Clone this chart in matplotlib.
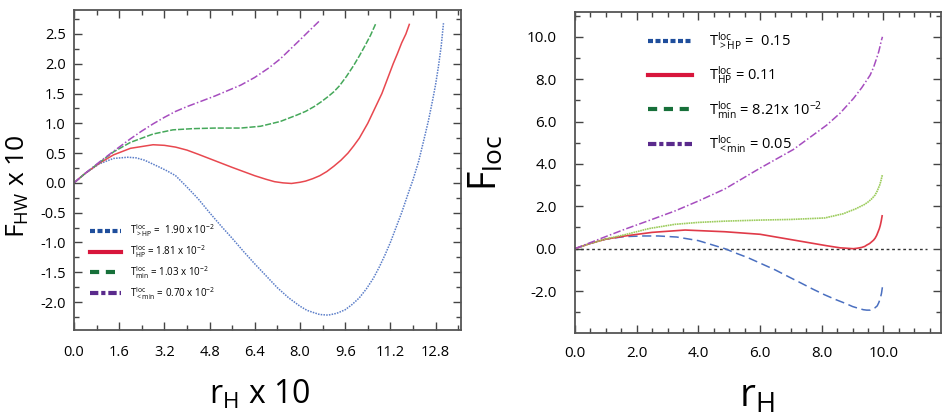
import matplotlib
matplotlib.use("Agg")
import matplotlib.pyplot as plt
from matplotlib.lines import Line2D
from matplotlib.ticker import MultipleLocator, FormatStrFormatter

plt.rcParams['font.family'] = ['Open Sans', 'DejaVu Sans']
plt.rcParams['axes.unicode_minus'] = False
plt.rcParams['mathtext.fontset'] = 'custom'
plt.rcParams['mathtext.rm'] = 'Open Sans'
plt.rcParams['mathtext.it'] = 'Open Sans'

# ---- left panel: F_HW x 10 vs r_H x 10 ----
l_x_above = [0, 0.4, 0.9, 1.4, 1.9, 2.2, 2.5, 3.0, 3.3, 3.6, 4.0, 4.4, 4.8, 5.2, 5.6, 6.0,
             6.4, 6.8, 7.2, 7.6, 8.0, 8.25, 8.5, 8.7, 9.0, 9.3, 9.6, 9.85, 10.1, 10.35, 10.6,
             10.8, 11.0, 11.2, 11.4, 11.6, 11.8, 12.0, 12.2, 12.4, 12.55, 12.7, 12.8, 12.9,
             13.0, 13.08]
l_y_above = [0, 0.16, 0.32, 0.41, 0.43, 0.42, 0.38, 0.27, 0.2, 0.12, -0.07, -0.27, -0.5,
             -0.72, -0.93, -1.15, -1.36, -1.56, -1.76, -1.93, -2.07, -2.14, -2.18, -2.21,
             -2.22, -2.19, -2.13, -2.04, -1.93, -1.78, -1.6, -1.42, -1.22, -1.0, -0.75, -0.5,
             -0.22, 0.05, 0.36, 0.75, 1.05, 1.4, 1.65, 1.95, 2.3, 2.68]
l_x_hp = [0, 0.4, 0.9, 1.4, 2.0, 2.8, 3.2, 3.6, 4.0, 4.4, 5.0, 5.6, 6.0, 6.4, 6.8, 7.1,
          7.4, 7.7, 8.0, 8.2, 8.45, 8.7, 8.95, 9.2, 9.45, 9.7, 9.9, 10.1, 10.4, 10.65, 10.9,
          11.1, 11.3, 11.45, 11.6, 11.75, 11.87]
l_y_hp = [0, 0.16, 0.33, 0.47, 0.58, 0.64, 0.63, 0.6, 0.55, 0.48, 0.37, 0.26, 0.19, 0.12,
          0.06, 0.02, 0.0, -0.01, 0.01, 0.03, 0.07, 0.12, 0.19, 0.28, 0.38, 0.5, 0.62, 0.75,
          1.0, 1.25, 1.5, 1.75, 2.0, 2.17, 2.35, 2.5, 2.66]
l_x_min = [0, 0.4, 0.9, 1.4, 2.0, 2.8, 3.5, 4.2, 5.0, 5.9, 6.6, 7.3, 7.9, 8.2, 8.5, 8.75,
           9.0, 9.2, 9.4, 9.65, 9.9, 10.1, 10.3, 10.5, 10.68]
l_y_min = [0, 0.16, 0.34, 0.52, 0.68, 0.82, 0.89, 0.91, 0.92, 0.92, 0.95, 1.03, 1.14, 1.2,
           1.28, 1.36, 1.45, 1.53, 1.63, 1.79, 1.97, 2.13, 2.3, 2.48, 2.67]
l_x_below = [0, 0.4, 0.9, 1.4, 2.0, 2.4, 2.8, 3.2, 3.6, 4.0, 4.5, 5.0, 5.4, 5.9, 6.4, 6.9,
             7.3, 7.65, 8.0, 8.3, 8.67]
l_y_below = [0, 0.16, 0.35, 0.53, 0.74, 0.87, 0.99, 1.1, 1.2, 1.28, 1.37, 1.46, 1.54, 1.64,
             1.77, 1.93, 2.08, 2.24, 2.4, 2.54, 2.71]
l_labels = [r'$\mathregular{T^{loc}_{>HP}}$ =  1.90 x 10$\mathregular{^{-2}}$',
            r'$\mathregular{T^{loc}_{HP}}$ = 1.81 x 10$\mathregular{^{-2}}$',
            r'$\mathregular{T^{loc}_{min}}$ = 1.03 x 10$\mathregular{^{-2}}$',
            r'$\mathregular{T^{loc}_{<min}}$ = 0.70 x 10$\mathregular{^{-2}}$']

# ---- right panel: F_loc vs r_H ----
r_x_above = [0, 0.5, 1.0, 1.6, 2.2, 2.7, 3.3, 4.0, 4.86, 5.2, 5.6, 6.0, 6.49, 7.0, 7.3,
             7.7, 8.1, 8.45, 8.8, 9.0, 9.2, 9.35, 9.46, 9.58, 9.65, 9.72, 9.8, 9.85, 9.9,
             9.94, 9.97]
r_y_above = [0, 0.25, 0.45, 0.57, 0.6, 0.6, 0.55, 0.38, 0.0, -0.2, -0.42, -0.68, -1.0,
             -1.38, -1.6, -1.9, -2.18, -2.4, -2.6, -2.73, -2.82, -2.88, -2.9, -2.9, -2.86,
             -2.8, -2.7, -2.55, -2.35, -2.1, -1.8]
r_x_hp = [0, 0.5, 1.0, 1.62, 2.5, 3.57, 4.86, 6.0, 7.08, 8.16, 8.6, 9.03, 9.15, 9.3, 9.4,
          9.46, 9.55, 9.6, 9.68, 9.73, 9.78, 9.83, 9.87, 9.9, 9.93, 9.96]
r_y_hp = [0, 0.25, 0.45, 0.6, 0.77, 0.88, 0.8, 0.68, 0.41, 0.14, 0.04, 0.0, 0.02, 0.06,
          0.11, 0.17, 0.24, 0.3, 0.4, 0.49, 0.62, 0.8, 0.95, 1.1, 1.3, 1.55]
r_x_min = [0, 0.5, 1.0, 1.62, 2.4, 3.24, 4.0, 4.86, 6.0, 7.0, 8.1, 8.7, 9.1, 9.24, 9.38,
           9.5, 9.62, 9.73, 9.8, 9.88, 9.92, 9.97]
r_y_min = [0, 0.25, 0.46, 0.66, 0.95, 1.15, 1.24, 1.3, 1.35, 1.38, 1.45, 1.65, 1.88, 1.98,
           2.08, 2.2, 2.35, 2.53, 2.72, 3.0, 3.2, 3.5]
r_x_below = [0, 0.8, 1.62, 2.4, 3.24, 4.0, 4.86, 6.0, 7.08, 8.16, 8.6, 9.03, 9.3, 9.57,
             9.68, 9.78, 9.85, 9.9, 9.93, 9.97]
r_y_below = [0, 0.46, 0.92, 1.33, 1.78, 2.25, 2.82, 3.8, 4.68, 5.83, 6.4, 7.09, 7.6, 8.19,
             8.55, 8.98, 9.3, 9.6, 9.8, 10.0]
r_zero_x = [0, 11.4]
r_zero_y = [0, 0]
r_labels = [r'$\mathregular{T^{loc}_{>HP}}$ =  0.15',
            r'$\mathregular{T^{loc}_{HP}}$ = 0.11',
            r'$\mathregular{T^{loc}_{min}}$ = 8.21x 10$\mathregular{^{-2}}$',
            r'$\mathregular{T^{loc}_{<min}}$ = 0.05']

legend_colors = ['#1f4e9c', '#d8163c', '#17703a', '#5a2a8c']
legend_styles = [(0, (1.2, 0.6)), '-', (0, (2.2, 1.6)), (0, (2, 0.7, 1, 0.7))]

spine_col = '#555555'


def style_axes(ax, labelsize, xpad, ypad):
    for s in ax.spines.values():
        s.set_color(spine_col)
        s.set_linewidth(1.3)
    ax.tick_params(which='both', direction='in', top=True, right=True,
                   color='#444444', width=1.0, labelsize=labelsize)
    ax.tick_params(which='major', length=6)
    ax.tick_params(which='minor', length=3.5)
    ax.tick_params(axis='x', pad=xpad)
    ax.tick_params(axis='y', pad=ypad)


fig = plt.figure(figsize=(9.47, 4.16), dpi=100)

# left
ax1 = fig.add_axes([0.0781, 0.2067, 0.4087, 0.769])
ax1.plot(l_x_above, l_y_above, color='#5a7dc8', lw=1.1, ls=(0, (1, 0.8)))
ax1.plot(l_x_hp, l_y_hp, color='#e8484f', lw=1.1)
ax1.plot(l_x_min, l_y_min, color='#45a85a', lw=1.1, ls=(0, (4, 1.2)))
ax1.plot(l_x_below, l_y_below, color='#a64dbf', lw=1.1, ls=(0, (5, 1.5, 1, 1.5)))
ax1.set_xlim(0, 13.7)
ax1.set_ylim(-2.47, 2.9)
ax1.xaxis.set_major_locator(MultipleLocator(1.6))
ax1.xaxis.set_minor_locator(MultipleLocator(0.8))
ax1.yaxis.set_major_locator(MultipleLocator(0.5))
ax1.yaxis.set_minor_locator(MultipleLocator(0.25))
ax1.xaxis.set_major_formatter(FormatStrFormatter('%.1f'))
ax1.yaxis.set_major_formatter(FormatStrFormatter('%.1f'))
ax1.set_xticks([0, 1.6, 3.2, 4.8, 6.4, 8.0, 9.6, 11.2, 12.8])
style_axes(ax1, 10.5, 11, 6)
ax1.set_xlabel(r'$\mathregular{r_H}$ x 10', fontsize=23)
ax1.xaxis.set_label_coords(0.48, -0.15)
ax1.set_ylabel(r'$\mathregular{F_{HW}}$ x 10', fontsize=19)
ax1.yaxis.set_label_coords(-0.11, 0.45)

h1 = [Line2D([], [], color=c, lw=3, ls=s) for c, s in zip(legend_colors, legend_styles)]
ax1.legend(h1, l_labels, loc='upper left', bbox_to_anchor=(0.03, 0.352), frameon=False,
           fontsize=7, handlelength=3.1, handletextpad=1.0, labelspacing=0.42, borderpad=0)

# right
ax2 = fig.add_axes([0.6072, 0.1995, 0.3865, 0.7716])
ax2.plot(r_zero_x, r_zero_y, color='#333333', lw=1.0, ls=(0, (2, 2)))
ax2.plot(r_x_above, r_y_above, color='#4a6fc0', lw=1.1, ls=(0, (6, 3)))
ax2.plot(r_x_hp, r_y_hp, color='#e03a48', lw=1.2)
ax2.plot(r_x_min, r_y_min, color='#9ccc5c', lw=1.2, ls=(0, (1, 0.4)))
ax2.plot(r_x_below, r_y_below, color='#a64dbf', lw=1.1, ls=(0, (5, 1.5, 1, 1.5)))
ax2.set_xlim(0, 11.87)
ax2.set_ylim(-3.98, 11.17)
ax2.set_xticks([0, 2, 4, 6, 8, 10])
ax2.xaxis.set_minor_locator(MultipleLocator(0.5))
ax2.set_yticks([-2, 0, 2, 4, 6, 8, 10])
ax2.yaxis.set_minor_locator(MultipleLocator(1.0))
ax2.xaxis.set_major_formatter(FormatStrFormatter('%.1f'))
ax2.yaxis.set_major_formatter(FormatStrFormatter('%.1f'))
style_axes(ax2, 11, 9, 13)
ax2.set_xlabel(r'$\mathregular{r_H}$', fontsize=28)
ax2.xaxis.set_label_coords(0.497, -0.14)
ax2.set_ylabel(r'$\mathregular{F_{loc}}$', fontsize=27)
ax2.yaxis.set_label_coords(-0.19, 0.53)

h2 = [Line2D([], [], color=c, lw=3, ls=s) for c, s in zip(legend_colors, legend_styles)]
ax2.legend(h2, r_labels, loc='upper left', bbox_to_anchor=(0.18, 0.966), frameon=False,
           fontsize=10.5, handlelength=3.0, handletextpad=1.2, labelspacing=0.85, borderpad=0)

fig.savefig('out.png', dpi=100)
